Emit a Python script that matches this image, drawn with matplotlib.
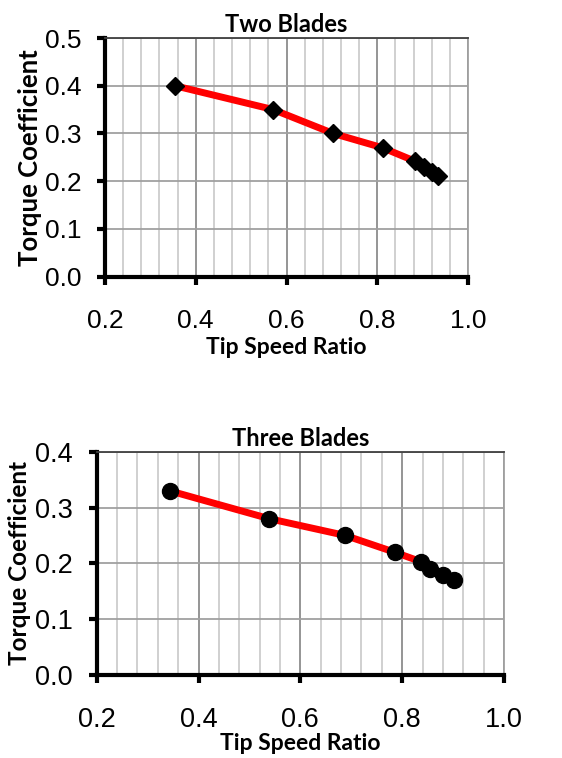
import numpy as np
import matplotlib
matplotlib.use("Agg")
import matplotlib.pyplot as plt
from matplotlib.ticker import MultipleLocator

# ── Données ────────────────────────────────────────────────────────────────
tsr_two = [0.354, 0.571, 0.703, 0.812, 0.883, 0.902, 0.920, 0.933]
cq_two = [0.40, 0.35, 0.30, 0.27, 0.242, 0.23, 0.22, 0.21]

tsr_three = [0.343, 0.539, 0.688, 0.785, 0.837, 0.855, 0.881, 0.902]
cq_three = [0.33, 0.28, 0.25, 0.22, 0.203, 0.19, 0.18, 0.17]

x_ticks = [0.2, 0.4, 0.6, 0.8, 1.0]
y_ticks_two = [0.0, 0.1, 0.2, 0.3, 0.4, 0.5]
y_ticks_three = [0.0, 0.1, 0.2, 0.3, 0.4]

W, H = 562, 758
BOLD = "Lato"
TICKF = "Liberation Sans"


def px_axes(fig, left, top, right, bottom):
    return fig.add_axes([left / W, 1 - bottom / H, (right - left) / W, (bottom - top) / H])


def style_axes(ax, yticks, title, xpad, xlpad, ylpad, ylabel_size, tsize):
    ax.set_xticks(x_ticks)
    ax.set_xticklabels([f"{v:.1f}" for v in x_ticks])
    ax.set_yticks(yticks)
    ax.set_yticklabels([f"{v:.1f}" for v in yticks])
    ax.set_xlim(0.2, 1.0)
    ax.set_ylim(yticks[0], yticks[-1])
    ax.xaxis.set_minor_locator(MultipleLocator(0.04))

    ax.grid(which="minor", axis="x", color="#c8c8c8", lw=1.2)
    ax.grid(which="major", axis="x", color="#8c8c8c", lw=1.3)
    ax.grid(which="major", axis="y", color="#a0a0a0", lw=1.3)
    ax.set_axisbelow(True)

    for s in ("left", "bottom"):
        ax.spines[s].set_linewidth(3)
        ax.spines[s].set_color("black")
    ax.spines["top"].set_color("#404040")
    ax.spines["top"].set_linewidth(1.3)
    ax.spines["right"].set_color("#a0a0a0")
    ax.spines["right"].set_linewidth(1.3)

    ax.tick_params(which="major", direction="out", length=6, width=3,
                   labelsize=tsize, colors="black")
    ax.tick_params(which="minor", length=0)
    ax.tick_params(axis="x", pad=xpad)
    ax.tick_params(axis="y", pad=11)
    for lab in ax.get_xticklabels() + ax.get_yticklabels():
        lab.set_fontfamily(TICKF)

    ax.set_title(title, fontfamily=BOLD, fontweight="bold", fontsize=17, pad=4)
    ax.set_xlabel("Tip Speed Ratio", fontfamily=BOLD, fontweight="bold",
                  fontsize=16.5, labelpad=xlpad)
    ax.set_ylabel("Torque Coefficient", fontfamily=BOLD, fontweight="bold",
                  fontsize=ylabel_size, labelpad=ylpad)


fig = plt.figure(figsize=(W / 100, H / 100), dpi=100)

# ── Deux pales ─────────────────────────────────────────────────────────────
ax1 = px_axes(fig, 105, 38, 468, 276.7)
ax1.plot(tsr_two, cq_two, color="#ff0000", lw=5, zorder=3)
ax1.plot(tsr_two, cq_two, ls="none", marker="D", ms=9, color="black", zorder=4)
style_axes(ax1, y_ticks_two, "Two Blades", 17, 3, 2, 18.5, 19)

# ── Trois pales ────────────────────────────────────────────────────────────
ax2 = px_axes(fig, 96.7, 451.7, 504, 675)
ax2.plot(tsr_three, cq_three, color="#ff0000", lw=5, zorder=3)
ax2.plot(tsr_three, cq_three, ls="none", marker="o", ms=11.5, color="black", zorder=4)
style_axes(ax2, y_ticks_three, "Three Blades", 17, 0, 3, 17.5, 19.5)

fig.savefig("out.png", dpi=100)
